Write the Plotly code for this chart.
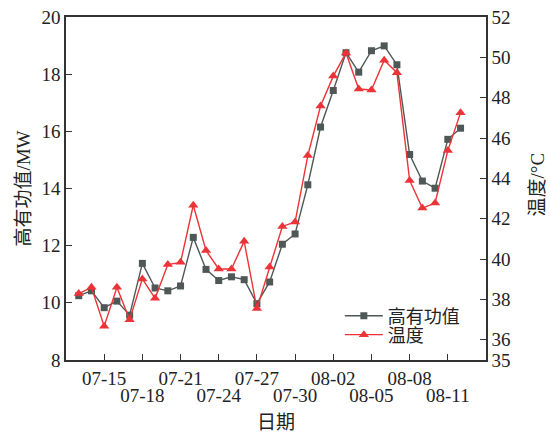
import plotly.graph_objects as go

dates = ["2023-07-%02d" % d for d in range(13, 32)] + ["2023-08-%02d" % d for d in range(1, 13)]
power = [10.25, 10.42, 9.83, 10.06, 9.57, 11.38, 10.52, 10.42, 10.59, 12.29, 11.17,
         10.78, 10.91, 10.81, 9.97, 10.73, 12.05, 12.41, 14.13, 16.15, 17.43, 18.75,
         18.07, 18.82, 18.99, 18.33, 15.19, 14.26, 14.01, 15.72, 16.11]
temp = [38.29, 38.6, 36.67, 38.6, 37.0, 39.02, 38.06, 39.73, 39.84, 42.67, 40.43,
        39.51, 39.51, 40.88, 37.55, 39.61, 41.62, 41.84, 45.13, 47.59, 49.07, 50.22,
        48.43, 48.38, 49.86, 49.24, 43.9, 42.53, 42.78, 45.38, 47.26]

tick_dates = ["2023-07-15", "2023-07-18", "2023-07-21", "2023-07-24", "2023-07-27",
              "2023-07-30", "2023-08-02", "2023-08-05", "2023-08-08", "2023-08-11"]
tick_text = ["07-15", "07-18", "07-21", "07-24", "07-27", "07-30", "08-02", "08-05", "08-08", "08-11"]
left_ticks = [8, 10, 12, 14, 16, 18, 20]
right_ticks = [35, 36, 38, 40, 42, 44, 46, 48, 50, 52]

FONT = "Liberation Serif, Noto Sans CJK SC"
AX = "#333333"
GRAY = "#4f5757"
RED = "#ec3337"

fig = go.Figure()
fig.add_trace(go.Scatter(x=dates, y=power, name="高有功值", mode="lines+markers",
                         line=dict(color=GRAY, width=1.4), legend="legend",
                         marker=dict(symbol="square", size=7, color=GRAY), yaxis="y"))
fig.add_trace(go.Scatter(x=dates, y=temp, name="温度", mode="lines+markers",
                         line=dict(color=RED, width=1.4), legend="legend2",
                         marker=dict(symbol="triangle-up", size=9, color=RED), yaxis="y2"))
# invisible trace to drive second-row tick labels
fig.add_trace(go.Scatter(x=[dates[0]], y=[power[0]], xaxis="x2", yaxis="y",
                         showlegend=False, hoverinfo="skip", mode="markers",
                         marker=dict(opacity=0)))

even_text = [t if i % 2 == 0 else "" for i, t in enumerate(tick_text)]
odd_vals = [d for i, d in enumerate(tick_dates) if i % 2 == 1]
odd_text = [t for i, t in enumerate(tick_text) if i % 2 == 1]

leg_common = dict(xanchor="left", yanchor="middle", bgcolor="rgba(0,0,0,0)",
                  font=dict(size=18), itemwidth=38, borderwidth=0)

fig.update_layout(
    width=550, height=434,
    margin=dict(l=66, r=64, t=17, b=74, autoexpand=False),
    paper_bgcolor="white", plot_bgcolor="white",
    font=dict(family=FONT, size=19, color="#222222"),
    showlegend=True,
    legend=dict(x=0.652, y=0.128, **leg_common),
    legend2=dict(x=0.652, y=0.073, **leg_common),
    xaxis=dict(type="date", range=["2023-07-12", "2023-08-14"],
               tickmode="array", tickvals=tick_dates, ticktext=even_text,
               ticks="inside", ticklen=6, tickwidth=1.2, tickcolor=AX,
               showline=True, linecolor=AX, linewidth=1.5, mirror=True,
               showgrid=False, zeroline=False, tickangle=0, automargin=False,
               title=dict(text="日期", standoff=28, font=dict(size=19))),
    xaxis2=dict(type="date", range=["2023-07-12", "2023-08-14"], overlaying="x",
                side="bottom", anchor="y", matches="x", automargin=False,
                tickmode="array", tickvals=odd_vals, ticktext=odd_text,
                ticks="", showline=False, showgrid=False, zeroline=False,
                ticklabelstandoff=22, tickangle=0),
    yaxis=dict(range=[8, 20], tickmode="array", tickvals=left_ticks,
               ticks="inside", ticklen=6, tickwidth=1.2, tickcolor=AX,
               showline=True, linecolor=AX, linewidth=1.5, mirror=True,
               showgrid=False, zeroline=False, automargin=False,
               title=dict(text="高有功值/MW", standoff=6, font=dict(size=19))),
    yaxis2=dict(range=[35, 52], overlaying="y", side="right", tickmode="array",
                tickvals=right_ticks, ticks="inside", ticklen=6, tickwidth=1.2,
                tickcolor=AX, showline=True, linecolor=AX, linewidth=1.5,
                showgrid=False, zeroline=False, automargin=False),
    annotations=[dict(text="温度/°C", xref="paper", yref="paper", x=1, y=0.5,
                      xanchor="center", yanchor="middle", xshift=51, yshift=4,
                      textangle=-90, showarrow=False, font=dict(size=19))],
)

fig.write_html("out.html")
